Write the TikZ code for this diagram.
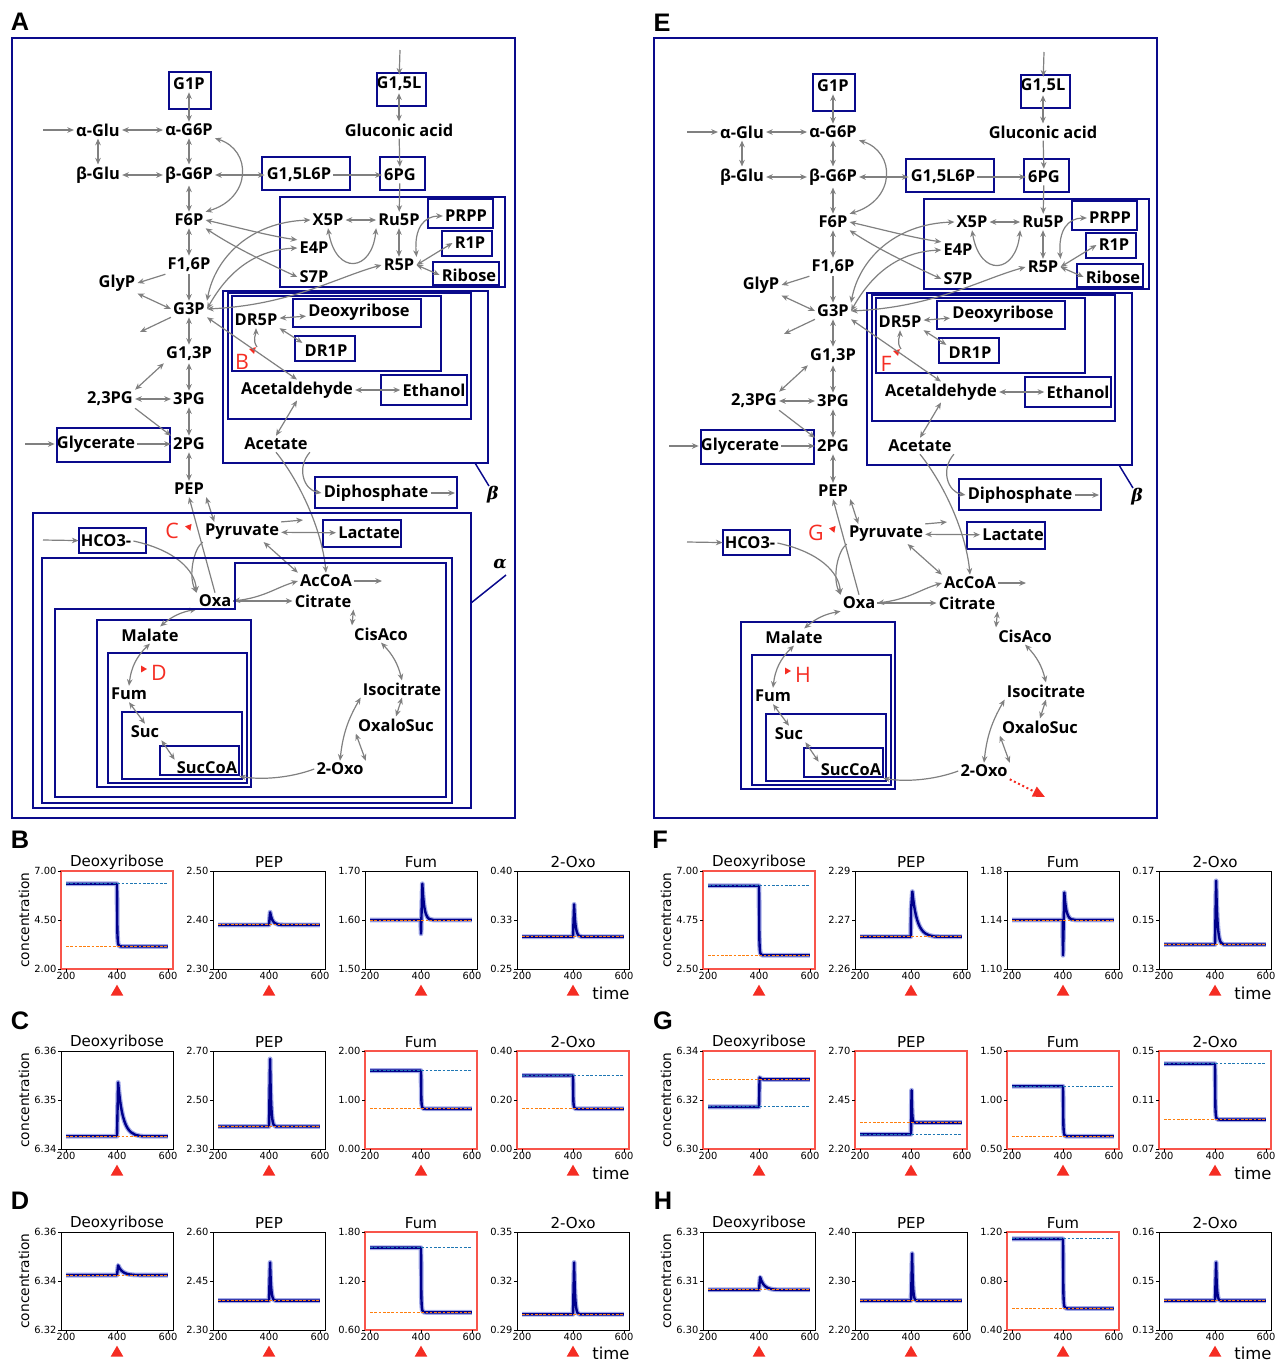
\documentclass[tikz,border=0pt]{standalone}
\usepackage{fontspec}
\setmainfont{DejaVu Sans}
\newfontfamily\metfont{Open Sans}
\newfontfamily\panelfont{Liberation Sans}
\newfontfamily\grkfont{DejaVu Serif}
\usetikzlibrary{arrows.meta,shapes.geometric}
\definecolor{compblue} {RGB}{10,10,140}
\definecolor{rxgray}   {RGB}{128,128,128}
\definecolor{markred}  {RGB}{245,45,35}
\definecolor{framered} {RGB}{248,85,75}
\definecolor{curvenavy}{RGB}{0,0,139}
\definecolor{curveband}{RGB}{165,172,232}
\definecolor{dashblue} {RGB}{31,119,180}
\definecolor{dashorng} {RGB}{255,127,14}

%% one pathway panel: #1,#2,#3 = red perturbation letters
\newcommand{\pathway}[3]{%
%% ── Glycolysis ───────────────────────────────────────────────────────────────
\node[met] (g1p)    at (189,84)  {G1P};
\node[met] (g15l)   at (399,84)  {G1,5L};
\coordinate (g15lin) at (400,50);
\node[met] (aglu)   at (98,130)  {α-Glu};
\coordinate (agluin) at (43,130);
\node[met] (ag6p)   at (189,130) {α-G6P};
\node[met] (glucon) at (399,130) {Gluconic acid};
\node[met] (bglu)   at (98,175)  {β-Glu};
\node[met] (bg6p)   at (189,175) {β-G6P};
\node[met] (g15l6p) at (299,175) {G1,5L6P};
\node[met] (pg6)    at (400,175) {6PG};
\node[met] (f6p)    at (189,220) {F6P};
\node[met] (f16p)   at (189,265) {F1,6P};
\node[met] (glyp)   at (117,283) {GlyP};
\node[met] (g3p)    at (189,309) {G3P};
\coordinate (g3pout) at (140,332);
\node[met] (g13p)   at (189,354) {G1,3P};
\node[met] (pg23)   at (110,399) {2,3PG};
\node[met] (pg3)    at (189,399) {3PG};
\node[met] (pg2)    at (189,444) {2PG};
\node[met] (glyc)   at (96,444)  {Glycerate};
\coordinate (glycin) at (25,444);
\node[met] (pep)    at (189,489) {PEP};
%% ── Pentose phosphate ────────────────────────────────────────────────────────
\node[met] (x5p)    at (328,220) {X5P};
\node[met] (ru5p)   at (399,220) {Ru5P};
\node[met] (prpp)   at (466,216) {PRPP};
\node[met] (e4p)    at (314,248) {E4P};
\node[met] (s7p)    at (314,277) {S7P};
\node[met] (r5p)    at (399,265) {R5P};
\node[met] (r1p)    at (470,243) {R1P};
\node[met] (ribose) at (469,275) {Ribose};
%% ── Deoxyribose / ethanol branch ─────────────────────────────────────────────
\node[met] (dr5p)   at (256,320) {DR5P};
\node[met] (deoxy)  at (359,312) {Deoxyribose};
\node[met] (dr1p)   at (326,351) {DR1P};
\coordinate (dr5pin) at (257,347);
\node[met] (acald)  at (297,390) {Acetaldehyde};
\node[met] (etoh)   at (434,390) {Ethanol};
\node[met] (acet)   at (276,444) {Acetate};
\node[met] (diphos) at (376,493) {Diphosphate};
\coordinate (diphosout) at (455,493);
%% ── TCA cycle ────────────────────────────────────────────────────────────────
\node[met] (hco3)   at (106,541) {HCO3-};
\coordinate (hco3in) at (43,540);
\node[met] (pyr)    at (242,532) {Pyruvate};
\coordinate (pyrout) at (303,520);
\node[met] (lact)   at (369,533) {Lactate};
\node[met] (accoa)  at (326,581) {AcCoA};
\coordinate (accoaout) at (382,581);
\node[met] (oxa)    at (215,601) {Oxa};
\node[met] (cit)    at (323,601) {Citrate};
\node[met] (mal)    at (150,635) {Malate};
\node[met] (cisaco) at (381,634) {CisAco};
\node[met] (fum)    at (129,694) {Fum};
\node[met] (isocit) at (402,689) {Isocitrate};
\node[met] (suc)    at (145,732) {Suc};
\node[met] (oxsuc)  at (396,725) {OxaloSuc};
\node[met] (succoa) at (207,768) {SucCoA};
\node[met] (oxo)    at (340,769) {2-Oxo};

%% ── Compartments ─────────────────────────────────────────────────────────────
\draw[comp] (169,72)  rectangle (211,109);
\draw[comp] (377,73)  rectangle (426,106);
\draw[comp] (262,157) rectangle (350,190);
\draw[comp] (380,157) rectangle (425,190);
\draw[comp] (280,197) rectangle (505,287);
\draw[comp] (428,199) rectangle (493,228);
\draw[comp] (442,231) rectangle (492,256);
\draw[comp] (433,262) rectangle (499,285);
\draw[comp] (57,428)  rectangle (170,462);
\draw[comp] (223,291) rectangle (488,463);
\draw[comp] (228,293) rectangle (471,419);
\draw[comp] (232,296) rectangle (441,371);
\draw[comp] (293,299) rectangle (421,327);
\draw[comp] (295,336) rectangle (355,361);
\draw[comp] (381,375) rectangle (467,405);
\draw[comp] (315,477) rectangle (457,508);
\draw[comp] (475,463) -- (489,486);
\node[greek] (betalab) at (493,495) {β};
\draw[comp] (79,528)  rectangle (146,553);
\draw[comp] (323,520) rectangle (401,547);
\draw[comp] (97,620)  rectangle (251,787);
\draw[comp] (108,653) rectangle (247,783);
\draw[comp] (122,712) rectangle (242,779);
\draw[comp] (160,746) rectangle (239,775);

%% ── Perturbation marks ───────────────────────────────────────────────────────
\node[hint] (hint1) at (242,362) {#1};
\node[redtip,shape border rotate=-45] at (253,350) {};
\node[hint] (hint2) at (172,531) {#2};
\node[redtip,shape border rotate=200] at (189,527) {};
\node[hint] (hint3) at (159,673) {#3};
\node[redtip,shape border rotate=150] at (143,669) {};

%% ── Reactions: glycolysis ────────────────────────────────────────────────────
\draw[rxo] (g15lin) -- (g15l);
\draw[rx]  (g1p) -- (ag6p);
\draw[rx]  (g15l) -- (glucon);
\draw[rxo] (agluin) -- (aglu);
\draw[rx]  (aglu) -- (ag6p);
\draw[rx]  (aglu) -- (bglu);
\draw[rx]  (ag6p) -- (bg6p);
\draw[rx]  (bglu) -- (bg6p);
\draw[rx]  (bg6p) -- (g15l6p);
\draw[rxo] (g15l6p) -- (pg6);
\draw[rxo] (glucon) -- (pg6);
\draw[rxo] (pg6) -- (ru5p);
\draw[rx]  (ag6p.south east) .. controls (252,150) and (252,198) .. (f6p.north east);
\draw[rx]  (bg6p) -- (f6p);
\draw[rx]  (f6p) -- (f16p);
\draw[rxo] (f16p) -- (g3p);
\draw[rxo] (f16p.south west) -- (glyp.east);
\draw[rx]  (glyp.south east) -- (g3p.west);
\draw[rxo] (g3p.south west) -- (g3pout);
\draw[rx]  (g3p) -- (g13p);
\draw[rx]  (g13p.south west) -- (pg23.north east);
\draw[rx]  (g13p) -- (pg3);
\draw[rx]  (pg23) -- (pg3);
\draw[rxo] (pg23.south east) -- (pg2.north west);
\draw[rx]  (pg3) -- (pg2);
\draw[rxo] (glycin) -- (glyc);
\draw[rxo] (glyc) -- (pg2);
\draw[rx]  (pg2) -- (pep);

%% ── Reactions: pentose phosphate ─────────────────────────────────────────────
\draw[rx]  (f6p.east) .. controls (240,228) and (270,236) .. (e4p.north west);
\draw[rx]  (f6p.south east) .. controls (232,246) and (265,262) .. (s7p.west);
\draw[rx]  (g3p.north east) .. controls (215,258) and (250,222) .. (x5p.west);
\draw[rx]  (g3p.east) .. controls (226,275) and (252,250) .. (e4p.west);
\draw[rx]  (g3p.east) .. controls (290,305) and (335,278) .. (r5p.west);
\draw[rx]  (x5p) -- (ru5p);
\draw[rx]  (x5p.south) .. controls (336,276) and (372,272) .. (ru5p.south west);
\draw[rx]  (ru5p) -- (r5p);
\draw[rx]  (r5p.north east) .. controls (414,228) and (424,216) .. (prpp.west);
\draw[rx]  (r5p.east) -- (r1p.west);
\draw[rx]  (r5p.east) -- (ribose.west);

%% ── Reactions: deoxyribose / ethanol ─────────────────────────────────────────
\draw[rx]  (g3p.south east) -- (acald.north);
\draw[rx]  (dr5p) -- (deoxy);
\draw[rx]  (dr5p.south east) -- (dr1p.north west);
\draw[rxo] (dr5pin) .. controls (252,340) and (256,334) .. (dr5p.south);
\draw[rx]  (acald) -- (etoh);
\draw[rx]  (acald.south) -- (acet.north);
\draw[rxo] (acet.south east) .. controls (296,468) and (304,490) .. (diphos.west);
\draw[rxo] (acet.south) .. controls (300,482) and (322,530) .. (accoa.north);
\draw[rxo] (diphos) -- (diphosout);

%% ── Reactions: TCA ───────────────────────────────────────────────────────────
\draw[rxo] (hco3in) -- (hco3);
\draw[rx]  (pep.south east) -- (pyr.160);
\draw[rxo] (oxa.north) -- (pep.south);
\draw[rxo] (hco3.east) .. controls (175,550) and (195,570) .. (oxa.north west);
\draw[rxo] (pyr.south west) .. controls (194,548) and (188,575) .. (oxa.north west);
\draw[rxo] (pyr.north east) -- (pyrout);
\draw[rx]  (pyr) -- (lact);
\draw[rx]  (pyr.-25) -- (accoa.north west);
\draw[rxo] (accoa) -- (accoaout);
\draw[rx]  (oxa.east) .. controls (265,597) and (275,588) .. (accoa.west);
\draw[rxo] (oxa.east) -- (cit.west);
\draw[rx]  (cit.south east) -- (cisaco.north west);
\draw[rx]  (cisaco.south) to[bend left=15] (isocit.north);
\draw[rx]  (isocit.south) -- (oxsuc.north);
\draw[rx]  (isocit.south west) to[bend right=12] (oxo.north);
\draw[rx]  (oxsuc.south west) -- (oxo.north east);
\draw[rxo] (oxo.west) .. controls (290,778) and (262,780) .. (succoa.south east);
\draw[rx]  (succoa.north west) -- (suc.south east);
\draw[rx]  (suc.north) -- (fum.south);
\draw[rx]  (fum.north) to[bend left=20] (mal.south);
\draw[rx]  (mal.40) to[bend left=15] (oxa.south west);
}

%% one time-course plot: x, y (frame top-left), title, ticks top/mid/bottom, frame style, curves
\newcommand{\simplot}[8]{%
\begin{scope}[shift={(#1,#2)}]
  \draw[#7] (0,0) rectangle (112,98);
  \foreach \ty/\tklab in {0/#4,49/#5,98/#6}{
    \draw[ptick] (0,\ty) -- (-3,\ty);
    \node[plabel,anchor=east] at (-3,\ty) {\tklab};}
  \foreach \tx/\tklab in {5/200,56/400,107/600}{
    \draw[ptick] (\tx,98) -- (\tx,101);
    \node[plabel,anchor=north] at (\tx,100) {\tklab};}
  \node[ptitle] at (56,-9) {#3};
  \node[ptri] at (56,121) {};
  \begin{scope}[shift={(0,98)},x=84pt,y=73.5pt]
    #8
  \end{scope}
\end{scope}}

\newcommand{\ptrace}[1]{\draw[pband] #1; \draw[pline] #1;}
%% step down: #1 before, #2 after
\newcommand{\stepdn}[2]{%
  \ptrace{(0.045,#1) -- (0.5,#1) -- (0.503,{#2+0.25*(#1-#2)}) .. controls (0.508,#2) .. (0.545,#2) -- (0.955,#2)}
  \draw[bdash] (0.045,#1) -- (0.955,#1);
  \draw[odash] (0.045,#2) -- (0.955,#2);}
%% step up: #1 before, #2 after
\newcommand{\stepup}[2]{%
  \ptrace{(0.045,#1) -- (0.5,#1) -- (0.505,{#2+0.02}) .. controls (0.52,#2) .. (0.55,#2) -- (0.955,#2)}
  \draw[bdash] (0.045,#1) -- (0.955,#1);
  \draw[odash] (0.045,#2) -- (0.955,#2);}
%% step up with overshoot: #1 before, #2 after, #3 peak
\newcommand{\stepspike}[3]{%
  \ptrace{(0.045,#1) -- (0.5,#1) -- (0.505,#3) .. controls (0.512,#2) .. (0.54,#2) -- (0.955,#2)}
  \draw[bdash] (0.045,#1) -- (0.955,#1);
  \draw[odash] (0.045,#2) -- (0.955,#2);}
%% transient: #1 level, #2 peak, #3 decay length
\newcommand{\spike}[3]{%
  \ptrace{(0.045,#1) -- (0.5,#1) -- (0.51,#2) .. controls ({0.51+0.15*#3},{#1+0.08*(#2-#1)}) and ({0.51+0.4*#3},#1) .. ({0.51+#3},#1) -- (0.955,#1)}
  \draw[odash] (0.045,#1) -- (0.955,#1);}
%% transient with a first jump: #1 level, #2 jump, #3 peak, #4 decay length
\newcommand{\dipspike}[4]{%
  \ptrace{(0.045,#1) -- (0.498,#1) -- (0.5,#2) -- (0.512,#3) .. controls ({0.512+0.15*#4},{#1+0.08*(#3-#1)}) and ({0.512+0.4*#4},#1) .. ({0.512+#4},#1) -- (0.955,#1)}
  \draw[odash] (0.045,#1) -- (0.955,#1);}

\begin{document}
\begin{tikzpicture}[
  x=0.75pt,y=-0.75pt,
  >={Stealth[length=5pt,width=4.2pt]},
  met/.style   ={font=\metfont\bfseries\fontsize{12.3}{14}\selectfont,inner sep=1.5pt},
  comp/.style  ={draw=compblue,line width=1.1pt},
  greek/.style ={font=\grkfont\bfseries\itshape\fontsize{13}{14}\selectfont},
  hint/.style  ={text=markred,font=\metfont\fontsize{16}{18}\selectfont,inner sep=0pt},
  redtip/.style={regular polygon,regular polygon sides=3,fill=markred,
                 minimum size=6pt,inner sep=0pt},
  rx/.style    ={<->,draw=rxgray,line width=0.9pt},
  rxo/.style   ={->,draw=rxgray,line width=0.9pt},
  redarr/.style={draw=markred,dotted,line width=1.5pt,
                 -{Triangle[length=9pt,width=8pt]}},
  panel/.style ={font=\panelfont\bfseries\fontsize{19}{20}\selectfont},
  ptitle/.style={font=\fontsize{11.3}{12}\selectfont},
  plabel/.style={font=\fontsize{7.4}{8}\selectfont,inner sep=1pt},
  paxis/.style ={font=\fontsize{10.3}{11}\selectfont,rotate=90},
  ptime/.style ={font=\fontsize{12.3}{13}\selectfont},
  ptick/.style ={line width=0.5pt},
  pframe/.style={draw=black,line width=0.6pt},
  rframe/.style={draw=framered,line width=1.3pt},
  ptri/.style  ={regular polygon,regular polygon sides=3,fill=markred,
                 minimum size=11pt,inner sep=0pt},
  pband/.style ={draw=curveband,line width=3.6pt,line join=round},
  pline/.style ={draw=curvenavy,line width=1.8pt,line join=round},
  bdash/.style ={draw=dashblue,line width=0.7pt,dash pattern=on 2pt off 1.2pt},
  odash/.style ={draw=dashorng,line width=0.7pt,dash pattern=on 2pt off 1.2pt},
]
\useasboundingbox (0,0) rectangle (1277,1361);

%% ── Panel A ──────────────────────────────────────────────────────────────────
\node[panel] (labA) at (20,22) {A};
\draw[comp] (12,38) rectangle (515,818);
\begin{scope}[name prefix=A-]
  \pathway{B}{C}{D}
  \draw[comp] (33,513) rectangle (471,808);
  \draw[comp] (42,558) rectangle (452,803);
  \draw[comp] (55,609) -- (235,609) -- (235,563) -- (446,563) -- (446,797) -- (55,797) -- cycle;
  \draw[comp] (471,603) -- (506,575);
  \node[greek] (alphalab) at (500,564) {α};
\end{scope}

%% ── Panel E ──────────────────────────────────────────────────────────────────
\node[panel] (labE) at (662,23) {E};
\draw[comp] (654,38) rectangle (1157,818);
\begin{scope}[shift={(644,2)},name prefix=E-]
  \pathway{F}{G}{H}
  \coordinate (oxoout) at (401,795);
  \draw[redarr] (oxo.south east) -- (oxoout);
\end{scope}

%% ── Time courses B, C, D ─────────────────────────────────────────────────────
\node[panel] (labB) at (20,840)  {B};
\node[panel] (labC) at (20,1021) {C};
\node[panel] (labD) at (20,1201) {D};
\node[paxis] (ylabB) at (24,920)  {concentration};
\node[paxis] (ylabC) at (24,1100) {concentration};
\node[paxis] (ylabD) at (24,1281) {concentration};
\node[ptime] (timeB) at (611,993)  {time};
\node[ptime] (timeC) at (611,1173) {time};
\node[ptime] (timeD) at (611,1353) {time};

\simplot{61}{871}{Deoxyribose}{7.00}{4.50}{2.00}{rframe}{\stepdn{0.87}{0.23}}
\simplot{213}{871}{PEP}{2.50}{2.40}{2.30}{pframe}{\spike{0.45}{0.58}{0.12}}
\simplot{365}{871}{Fum}{1.70}{1.60}{1.50}{pframe}{\dipspike{0.5}{0.36}{0.87}{0.1}}
\simplot{517}{871}{2-Oxo}{0.40}{0.33}{0.25}{pframe}{\spike{0.33}{0.66}{0.07}}

\simplot{61}{1051}{Deoxyribose}{6.36}{6.35}{6.34}{pframe}{\spike{0.13}{0.68}{0.25}}
\simplot{213}{1051}{PEP}{2.70}{2.50}{2.30}{pframe}{\spike{0.23}{0.92}{0.05}}
\simplot{365}{1051}{Fum}{2.00}{1.00}{0.00}{rframe}{\stepdn{0.8}{0.41}}
\simplot{517}{1051}{2-Oxo}{0.40}{0.20}{0.00}{rframe}{\stepdn{0.75}{0.41}}

\simplot{61}{1232}{Deoxyribose}{6.36}{6.34}{6.32}{pframe}{\spike{0.56}{0.66}{0.22}}
\simplot{213}{1232}{PEP}{2.60}{2.45}{2.30}{pframe}{\spike{0.3}{0.69}{0.05}}
\simplot{365}{1232}{Fum}{1.80}{1.20}{0.60}{rframe}{\stepdn{0.84}{0.18}}
\simplot{517}{1232}{2-Oxo}{0.35}{0.32}{0.29}{pframe}{\spike{0.16}{0.69}{0.05}}

%% ── Time courses F, G, H ─────────────────────────────────────────────────────
\node[panel] (labF) at (660,840)  {F};
\node[panel] (labG) at (663,1021) {G};
\node[panel] (labH) at (663,1201) {H};
\node[paxis] (ylabF) at (666,920)  {concentration};
\node[paxis] (ylabG) at (666,1100) {concentration};
\node[paxis] (ylabH) at (666,1281) {concentration};
\node[ptime] (timeF) at (1253,993)  {time};
\node[ptime] (timeG) at (1253,1173) {time};
\node[ptime] (timeH) at (1253,1353) {time};

\simplot{703}{871}{Deoxyribose}{7.00}{4.75}{2.50}{rframe}{\stepdn{0.85}{0.14}}
\simplot{855}{871}{PEP}{2.29}{2.27}{2.26}{pframe}{\dipspike{0.33}{0.6}{0.79}{0.25}}
\simplot{1007}{871}{Fum}{1.18}{1.14}{1.10}{pframe}{\dipspike{0.5}{0.14}{0.78}{0.1}}
\simplot{1159}{871}{2-Oxo}{0.17}{0.15}{0.13}{pframe}{\spike{0.25}{0.9}{0.07}}

\simplot{703}{1051}{Deoxyribose}{6.34}{6.32}{6.30}{rframe}{\stepup{0.43}{0.71}}
\simplot{855}{1051}{PEP}{2.70}{2.45}{2.20}{rframe}{\stepspike{0.15}{0.27}{0.6}}
\simplot{1007}{1051}{Fum}{1.50}{1.00}{0.50}{rframe}{\stepdn{0.64}{0.13}}
\simplot{1159}{1051}{2-Oxo}{0.15}{0.11}{0.07}{rframe}{\stepdn{0.87}{0.3}}

\simplot{703}{1232}{Deoxyribose}{6.33}{6.31}{6.30}{pframe}{\spike{0.41}{0.54}{0.2}}
\simplot{855}{1232}{PEP}{2.40}{2.30}{2.20}{pframe}{\spike{0.3}{0.78}{0.04}}
\simplot{1007}{1232}{Fum}{1.20}{0.80}{0.40}{rframe}{\stepdn{0.93}{0.22}}
\simplot{1159}{1232}{2-Oxo}{0.16}{0.15}{0.13}{pframe}{\spike{0.3}{0.69}{0.04}}

\end{tikzpicture}
\end{document}
